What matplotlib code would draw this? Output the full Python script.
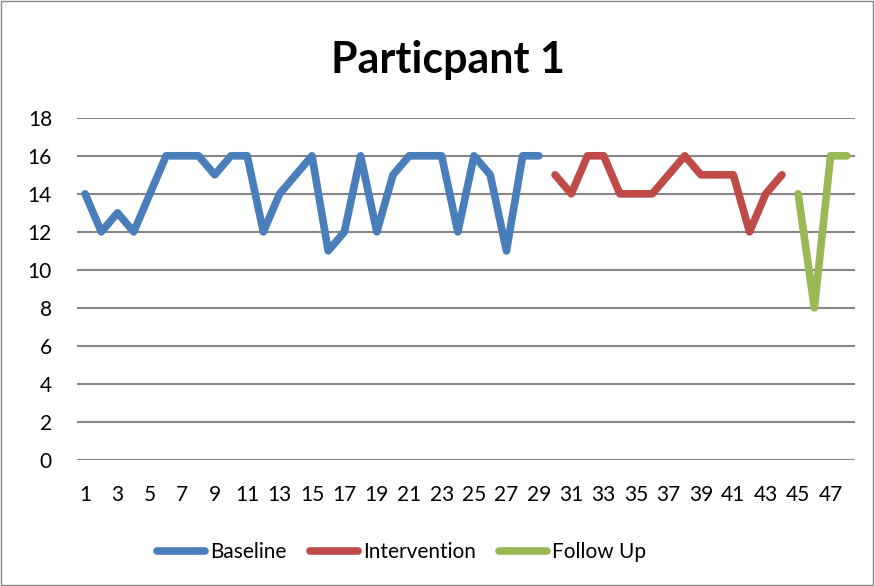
import matplotlib.pyplot as plt
from matplotlib.patches import Rectangle

plt.rcParams['font.family'] = ['Lato', 'DejaVu Sans']

# Sessions and scores
baseline_x = list(range(1, 30))
baseline_y = [14, 12, 13, 12, 14, 16, 16, 16, 15, 16, 16, 12, 14, 15, 16,
              11, 12, 16, 12, 15, 16, 16, 16, 12, 16, 15, 11, 16, 16]
intervention_x = list(range(30, 45))
intervention_y = [15, 14, 16, 16, 14, 14, 14, 15, 16, 15, 15, 15, 12, 14, 15]
follow_x = list(range(45, 49))
follow_y = [14, 8, 16, 16]

x_ticks = list(range(1, 48, 2))
y_ticks = list(range(0, 19, 2))


def main() -> None:
    fig = plt.figure(figsize=(8.75, 5.86), dpi=100)
    ax = fig.add_axes([0.088, 0.215, 0.889, 0.584])

    lw = 5.5
    ax.plot(baseline_x, baseline_y, color="#4a7ebb", lw=lw,
            solid_capstyle="round", solid_joinstyle="round", label="Baseline")
    ax.plot(intervention_x, intervention_y, color="#be4b48", lw=lw,
            solid_capstyle="round", solid_joinstyle="round", label="Intervention")
    ax.plot(follow_x, follow_y, color="#98b954", lw=lw,
            solid_capstyle="round", solid_joinstyle="round", label="Follow Up")

    ax.set_xlim(0.5, 48.5)
    ax.set_ylim(0, 18)
    ax.set_yticks(y_ticks)
    ax.set_xticks(x_ticks)
    ax.tick_params(length=0, labelsize=15)
    ax.tick_params(axis="x", pad=18)
    ax.tick_params(axis="y", pad=18)
    ax.grid(axis="y", color="#868686", lw=1.5)
    ax.set_axisbelow(True)
    for s in ax.spines.values():
        s.set_visible(False)

    fig.text(0.512, 0.897, "Particpant 1", ha="center", va="center",
             fontsize=31, fontweight="bold")

    fig.legend(loc="center", bbox_to_anchor=(0.459, 0.058), ncol=3,
               frameon=False, fontsize=15, handlelength=2.3,
               handletextpad=0.25, columnspacing=1.1)

    fig.patches.append(Rectangle((0.001, 0.002), 0.997, 0.996,
                                 transform=fig.transFigure, fill=False,
                                 edgecolor="#868686", lw=1))
    fig.savefig("out.png", dpi=100)


if __name__ == "__main__":
    main()
